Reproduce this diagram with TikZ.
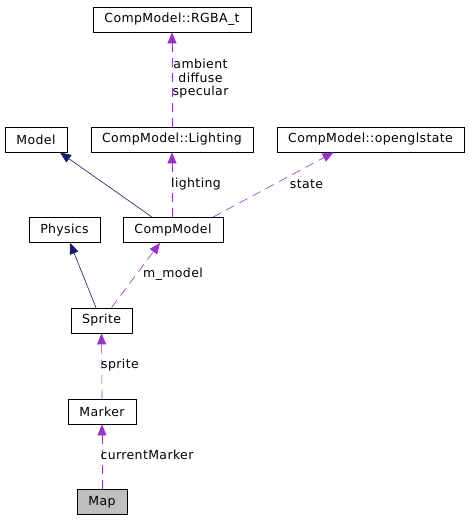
\documentclass[tikz,border=0pt]{standalone}
\usepackage{fontspec}
\setmainfont{DejaVu Sans}[LetterSpace=3]
\usepackage{tikz}
\usetikzlibrary{arrows.meta}
\usepackage{xcolor}
\definecolor{navyedge}{HTML}{191970}
\definecolor{orchidedge}{HTML}{9A32CD}

\tikzset{
  cls/.style={draw, thick, minimum height=25pt, inner sep=0pt, font=\fontsize{12.5}{14}\selectfont},
  lbl/.style={inner sep=0pt, align=center, font=\fontsize{12.5}{13.5}\selectfont},
  inherit/.style={draw=navyedge, semithick, -{Triangle[length=11pt,width=9pt,fill=navyedge]}},
  uses/.style={draw=orchidedge, semithick, dash pattern=on 9pt off 6pt, -{Triangle[length=11pt,width=9pt,fill=orchidedge]}}
}

\begin{document}
\begin{tikzpicture}[x=1pt, y=-1pt]
\useasboundingbox (0,0) rectangle (469,520);

% Classes
\node[cls, minimum width=158pt] (rgba) at (172,19.5) {CompModel::RGBA\_t};
\node[cls, minimum width=62pt] (model) at (36,139.5) {Model};
\node[cls, minimum width=162pt] (lighting) at (172,139.5) {CompModel::Lighting};
\node[cls, minimum width=187pt] (opengl) at (370.5,139.5) {CompModel::openglstate};
\node[cls, minimum width=71pt] (physics) at (64.5,230) {Physics};
\node[cls, minimum width=100pt] (compmodel) at (173,230) {CompModel};
\node[cls, minimum width=61pt] (sprite) at (101.5,320.5) {Sprite};
\node[cls, minimum width=68pt] (marker) at (102,411.5) {Marker};
\node[cls, minimum width=50pt, fill=black!25] (map) at (102,502) {Map};

% Inheritance
\draw[inherit] ([xshift=-21pt]compmodel.north) -- ([xshift=24pt]model.south);
\draw[inherit] ([xshift=-5.5pt]sprite.north) -- ([xshift=5.5pt]physics.south);

% Members
\draw[uses] (lighting.north) -- (rgba.south);
\draw[uses] ([xshift=-1pt]compmodel.north) -- (lighting.south);
\draw[uses] ([xshift=40pt]compmodel.north) -- ([xshift=-37pt]opengl.south);
\draw[uses] ([xshift=10pt]sprite.north) -- ([xshift=-13pt]compmodel.south);
\draw[uses] (marker.north) -- (sprite.south);
\draw[uses] (map.north) -- (marker.south);

% Labels
\node[lbl] (lblrgba) at (200.5,79) {ambient\\diffuse\\specular};
\node[lbl] (lbllighting) at (196,184) {lighting};
\node[lbl] (lblstate) at (306.5,184) {state};
\node[lbl] (lblmodel) at (173,274) {m\_model};
\node[lbl] (lblsprite) at (120,365) {sprite};
\node[lbl] (lblmarker) at (147,455) {currentMarker};

\end{tikzpicture}
\end{document}
